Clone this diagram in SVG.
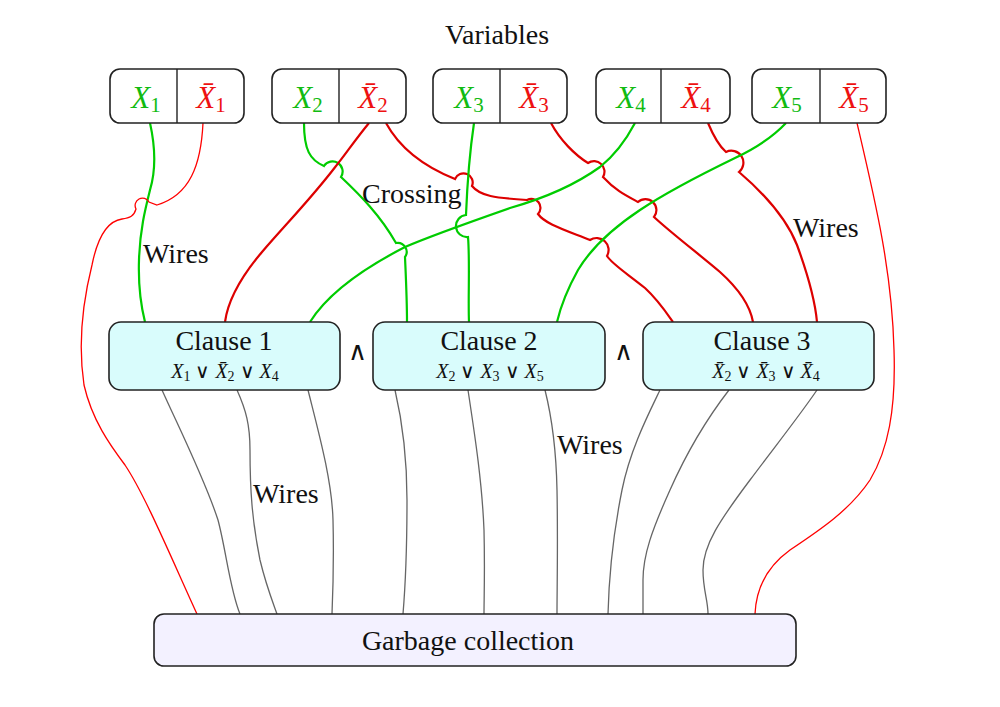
<svg xmlns="http://www.w3.org/2000/svg" width="1000" height="707" viewBox="0 0 1000 707" font-family="'Liberation Serif', 'Times New Roman', serif">
<style>
text{font-family:'Liberation Serif','Times New Roman',serif;fill:#111}
.lbl{font-size:28px}
.vx{font-size:31px;font-style:italic;text-anchor:middle}
.vs{font-size:21px;font-style:normal}
.fx{font-size:20px;font-style:italic;text-anchor:middle}
.fs{font-size:14px;font-style:normal}
.up{font-style:normal}
.gt{fill:#11bb11}
.rt{fill:#ee1111}
.vbox{fill:#fff;stroke:#222;stroke-width:1.6}
.div{stroke:#222;stroke-width:1.4}
.cbox{fill:#d9fcfc;stroke:#222;stroke-width:1.6}
.gbox{fill:#f3f1ff;stroke:#222;stroke-width:1.6}
.g{fill:none;stroke:#00cc00;stroke-width:2.2}
.r{fill:none;stroke:#dd0000;stroke-width:2.2}
.rthin{fill:none;stroke:#ff0000;stroke-width:1.3}
.w{fill:none;stroke:#666;stroke-width:1.3}
.mid{text-anchor:middle}
.and{font-family:'DejaVu Sans',sans-serif;font-weight:200;font-size:26px;text-anchor:middle}
</style>
<g id="connectors">
<path class="g" d="M150,123 C156,150 156,170 150,190 C145,210 140,230 139,260 C138,290 142,310 145,322"/>
<path class="rthin" d="M203,123 C201,165 190,195 157,205 L149,202 A6,6 0 0 0 136,209 C134,216 130,218 122,219 C108,221 98,235 92,265 C82,305 78,345 84,385 C92,420 110,445 125,465 C145,495 170,555 197,614"/>
<path class="g" d="M304,123 C304,150 310,160 324,166 A10,10 0 0 1 341,177 C360,195 380,215 396,243 A9,9 0 0 1 405,257 C406,280 407,300 407,322"/>
<path class="r" d="M369,123 C355,140 345,155 336,166 C310,200 285,225 262,252 C240,278 228,300 225,322"/>
<path class="r" d="M386,123 C398,145 420,165 455,179 A9,9 0 0 1 472,186 C480,196 495,198 527,200 A9,9 0 0 1 538,214 C545,224 565,230 590,240 A12,12 0 0 1 607,256 C612,264 625,272 645,288 C658,300 666,312 673,322"/>
<path class="g" d="M474,123 C470,150 467,190 466,215 A11,11 0 0 0 468,237 C470,260 468,300 469,322"/>
<path class="r" d="M551,123 C560,140 575,155 588,163 A10.5,10.5 0 0 1 603,177 C615,190 625,195 638,202 A11,11 0 0 1 654,217 C670,232 700,255 720,272 C740,290 750,305 753,322"/>
<path class="g" d="M635,123 C626,140 615,155 600,167 C575,185 545,198 510,208 C470,222 430,236 405,247 C370,265 330,290 310,322"/>
<path class="r" d="M708,123 C713,135 718,145 726,152 A12,12 0 0 1 739,172 C760,190 785,215 797,245 C808,275 815,300 817,322"/>
<path class="g" d="M786,123 C770,140 752,150 735,158 C700,175 670,190 640,210 C610,230 590,250 578,270 C568,288 561,305 557,322"/>
<path class="rthin" d="M857,123 C875,200 892,270 894,350 C896,410 888,450 870,480 C850,510 820,530 790,550 C765,568 756,590 755,614"/>
<path class="w" d="M162,390 C180,430 205,480 218,520 C226,550 230,590 240,614"/>
<path class="w" d="M237,390 C246,410 250,425 250,450 C250,490 252,520 260,560 C266,585 272,600 277,614"/>
<path class="w" d="M308,390 C318,430 332,480 333,520 C334,560 333,590 332,614"/>
<path class="w" d="M395,390 C402,420 407,460 407,500 C407,550 405,590 403,614"/>
<path class="w" d="M468,390 C474,430 482,480 484,530 C485,570 484,600 484,614"/>
<path class="w" d="M545,390 C550,410 556,440 557,490 C558,540 557,590 557,614"/>
<path class="w" d="M660,390 C648,415 630,450 622,490 C614,530 609,575 608,614"/>
<path class="w" d="M729,390 C712,412 690,445 670,490 C652,530 643,555 643,580 C643,595 643,605 643,614"/>
<path class="w" d="M817,390 C800,415 780,440 750,480 C720,520 703,545 703,570 C703,590 708,600 708,614"/>
</g>
<g id="labels">
<text class="lbl mid" x="497" y="44">Variables</text>
<text class="lbl" x="143" y="263">Wires</text>
<text class="lbl" x="362" y="203">Crossing</text>
<text class="lbl" x="793" y="237">Wires</text>
<text class="lbl" x="253" y="503">Wires</text>
<text class="lbl" x="557" y="454">Wires</text>
<text class="and" x="357" y="360">∧</text>
<text class="and" x="623" y="360">∧</text>
</g>
<g id="var1">
<rect class="vbox" x="110" y="69" width="134" height="54" rx="10"/>
<line class="div" x1="177" y1="69" x2="177" y2="123"/>
<text class="vx gt" x="146" y="108">X<tspan class="vs" dy="4">1</tspan></text>
<text class="vx rt" x="211" y="108">X̄<tspan class="vs" dy="4">1</tspan></text>
</g>
<g id="var2">
<rect class="vbox" x="272" y="69" width="134" height="54" rx="10"/>
<line class="div" x1="339" y1="69" x2="339" y2="123"/>
<text class="vx gt" x="308" y="108">X<tspan class="vs" dy="4">2</tspan></text>
<text class="vx rt" x="373" y="108">X̄<tspan class="vs" dy="4">2</tspan></text>
</g>
<g id="var3">
<rect class="vbox" x="433" y="69" width="134" height="54" rx="10"/>
<line class="div" x1="500" y1="69" x2="500" y2="123"/>
<text class="vx gt" x="469" y="108">X<tspan class="vs" dy="4">3</tspan></text>
<text class="vx rt" x="534" y="108">X̄<tspan class="vs" dy="4">3</tspan></text>
</g>
<g id="var4">
<rect class="vbox" x="596" y="69" width="134" height="54" rx="10"/>
<line class="div" x1="661" y1="69" x2="661" y2="123"/>
<text class="vx gt" x="631" y="108">X<tspan class="vs" dy="4">4</tspan></text>
<text class="vx rt" x="696" y="108">X̄<tspan class="vs" dy="4">4</tspan></text>
</g>
<g id="var5">
<rect class="vbox" x="752" y="69" width="134" height="54" rx="10"/>
<line class="div" x1="820" y1="69" x2="820" y2="123"/>
<text class="vx gt" x="787" y="108">X<tspan class="vs" dy="4">5</tspan></text>
<text class="vx rt" x="854" y="108">X̄<tspan class="vs" dy="4">5</tspan></text>
</g>
<g id="clause1">
<rect class="cbox" x="109" y="322" width="231" height="68" rx="12"/>
<text class="lbl mid" x="224" y="350">Clause 1</text>
<text class="fx" x="225" y="378">X<tspan class="fs" dy="3">1</tspan><tspan class="up" dy="-3"> ∨ </tspan>X̄<tspan class="fs" dy="3">2</tspan><tspan class="up" dy="-3"> ∨ </tspan>X<tspan class="fs" dy="3">4</tspan></text>
</g>
<g id="clause2">
<rect class="cbox" x="373" y="322" width="232" height="68" rx="12"/>
<text class="lbl mid" x="489" y="350">Clause 2</text>
<text class="fx" x="490" y="378">X<tspan class="fs" dy="3">2</tspan><tspan class="up" dy="-3"> ∨ </tspan>X<tspan class="fs" dy="3">3</tspan><tspan class="up" dy="-3"> ∨ </tspan>X<tspan class="fs" dy="3">5</tspan></text>
</g>
<g id="clause3">
<rect class="cbox" x="643" y="322" width="231" height="68" rx="12"/>
<text class="lbl mid" x="762" y="350">Clause 3</text>
<text class="fx" x="766" y="378">X̄<tspan class="fs" dy="3">2</tspan><tspan class="up" dy="-3"> ∨ </tspan>X̄<tspan class="fs" dy="3">3</tspan><tspan class="up" dy="-3"> ∨ </tspan>X̄<tspan class="fs" dy="3">4</tspan></text>
</g>
<g id="garbage">
<rect class="gbox" x="154" y="614" width="642" height="52" rx="10"/>
<text class="lbl mid" x="468" y="650">Garbage collection</text>
</g>
</svg>
